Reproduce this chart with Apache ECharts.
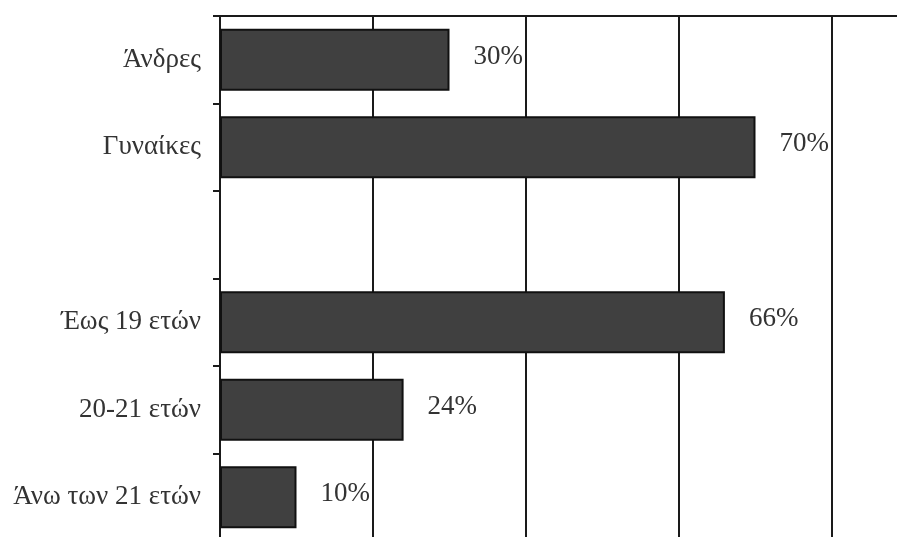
<!DOCTYPE html>
<html>
<head>
<meta charset="utf-8">
<script src="https://cdn.jsdelivr.net/npm/echarts@6/dist/echarts.min.js"></script>
<style>
html,body{margin:0;padding:0;background:#fff;}
#chart{width:897px;height:537px;}
</style>
</head>
<body>
<div id="chart"></div>
<script>
const categories = ['Άνδρες', 'Γυναίκες', '', 'Έως 19 ετών', '20-21 ετών', 'Άνω των 21 ετών'];
const values = [30, 70, null, 66, 24, 10];
const xTicks = [0, 20, 40, 60, 80, 100];

const chart = echarts.init(document.getElementById('chart'));
const FONT = '"Liberation Serif", "DejaVu Serif", serif';
chart.setOption({
  animation: false,
  backgroundColor: '#ffffff',
  grid: { left: 220, top: 16, width: 765, height: 525, containLabel: false, outerBoundsMode: 'none' },
  xAxis: {
    type: 'value',
    position: 'top',
    min: xTicks[0],
    max: xTicks[xTicks.length - 1],
    interval: 20,
    axisLine: { show: true, lineStyle: { color: '#1a1a1a', width: 2 } },
    axisTick: { show: false },
    axisLabel: { show: false },
    splitLine: { show: true, lineStyle: { color: '#1a1a1a', width: 2 } }
  },
  yAxis: {
    type: 'category',
    inverse: true,
    data: categories,
    axisLine: { show: true, lineStyle: { color: '#1a1a1a', width: 2 } },
    axisTick: { show: true, length: 7, lineStyle: { color: '#1a1a1a', width: 2 } },
    axisLabel: { margin: 19, color: '#333333', fontFamily: FONT, fontSize: 27 },
    splitLine: { show: false }
  },
  series: [{
    type: 'bar',
    data: values,
    barWidth: 62,
    itemStyle: { color: '#404040', borderColor: '#111111', borderWidth: 2 },
    label: {
      show: true,
      position: 'right',
      distance: 24,
      offset: [0, -3],
      formatter: p => p.value == null ? '' : p.value + '%',
      color: '#333333',
      fontFamily: FONT,
      fontSize: 27
    }
  }]
});
</script>
</body>
</html>
